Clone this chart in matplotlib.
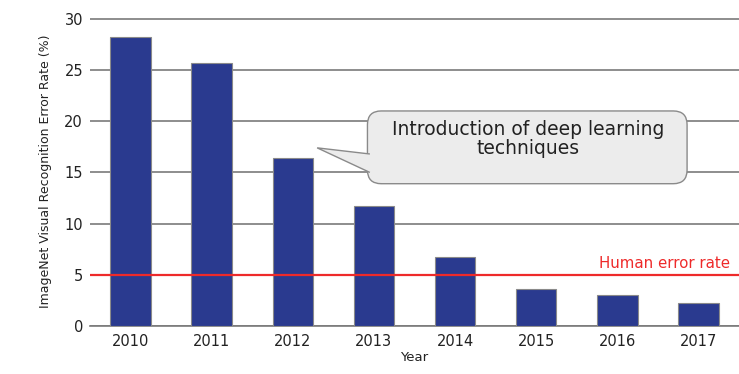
import matplotlib.pyplot as plt
from matplotlib.patches import FancyBboxPatch, Polygon

years = ["2010", "2011", "2012", "2013", "2014", "2015", "2016", "2017"]
error_rate = [28.2, 25.7, 16.4, 11.7, 6.7, 3.6, 3.0, 2.3]
human_rate = 5.0
yticks = [0, 5, 10, 15, 20, 25, 30]

plt.rcParams["font.family"] = ["DejaVu Sans"]

fig = plt.figure(figsize=(7.39, 3.74), dpi=100)
ax = fig.add_axes([90 / 739, 0.128, 649 / 739, 0.826])

x = range(len(years))
ax.bar(x, error_rate, width=0.5, color="#2a3a8f", edgecolor="#8a8a8a",
       linewidth=0.8, zorder=3)

ax.axhline(human_rate, color="#ee2a2a", linewidth=1.6, zorder=4)
ax.text(7.39, human_rate + 0.7, "Human error rate", color="#ee2a2a",
        fontsize=10.8, ha="right", va="baseline", zorder=5)

ax.set_xlim(-0.5, 7.5)
ax.set_ylim(0, 30.15)
ax.set_yticks(yticks)
ax.set_xticks(list(x))
ax.set_xticklabels(years, fontsize=10.5, color="#222222")
ax.tick_params(axis="y", labelsize=10.5, labelcolor="#222222", length=0, pad=5)
ax.tick_params(axis="x", length=0, pad=6)
ax.grid(axis="y", color="#7a7a7a", linewidth=1.2, zorder=0)
ax.set_axisbelow(True)
for s in ["left", "right", "top"]:
    ax.spines[s].set_visible(False)
ax.spines["bottom"].set_color("#7a7a7a")
ax.spines["bottom"].set_linewidth(1.2)

ax.set_ylabel("ImageNet Visual Recognition Error Rate (%)", fontsize=9,
              color="#222222", labelpad=9)
ax.set_xlabel("Year", fontsize=9.5, color="#222222", labelpad=1)

# callout box
box = FancyBboxPatch((2.92, 13.9), 3.94, 7.1,
                     boxstyle="round,pad=0,rounding_size=0.17",
                     mutation_aspect=80.9 / 10.27,
                     facecolor="#ececec", edgecolor="#8a8a8a", linewidth=1.0,
                     zorder=6)
ax.add_patch(box)
ax.add_patch(Polygon([(2.95, 16.8), (2.30, 17.4), (2.95, 15.0)], closed=False,
                     facecolor="#ececec", edgecolor="#8a8a8a", linewidth=1.0,
                     zorder=7))
ax.text(4.9, 18.3, "Introduction of deep learning\ntechniques", fontsize=13.5,
        ha="center", va="center", color="#222222", linespacing=1.0, zorder=8)

fig.savefig("out.png", dpi=100)
